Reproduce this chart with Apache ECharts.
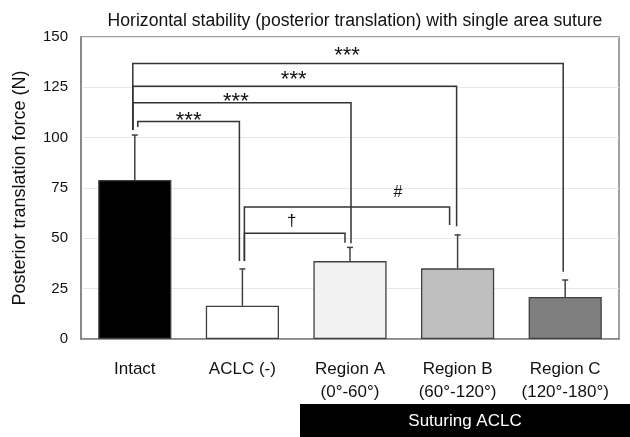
<!DOCTYPE html>
<html>
<head>
<meta charset="utf-8">
<script src="https://cdn.jsdelivr.net/npm/echarts@6/dist/echarts.min.js"></script>
<style>html,body{margin:0;padding:0;background:#fff}#c{width:630px;height:437px}</style>
</head>
<body>
<div id="c"></div>
<script>
// ---- data ----
const categories = ['Intact', 'ACLC (-)', 'Region A\n(0°-60°)', 'Region B\n(60°-120°)', 'Region C\n(120°-180°)'];
const means = [79, 16.5, 38.7, 35.1, 20.9];
const errorsUp = [22.3, 18.3, 6.8, 16.6, 8.4];
const yTicks = [0, 25, 50, 75, 100, 125, 150];
// significance brackets
const bracketFrom = [0, 0, 0, 0, 1, 1];
const bracketTo = [1, 2, 3, 4, 2, 3];
const bracketLevel = [108, 117.4, 125.5, 136.8, 52.5, 65.6];
const bracketLeftEnd = [105.3, 103.8, 103.8, 103.8, 38.7, 38.7];
const bracketRightEnd = [38.7, 47.5, 56, 33.4, 47.8, 56.6];
const bracketLabels = ['***', '***', '***', '***', '†', '#'];
const groupLabel = 'Suturing ACLC';

// ---- styling / layout (pixels) ----
const legLeftShift = [3, -2, -2, -2, 2, 2];
const legRightShift = [-3, 1, -1, -2, -5, -8];
const labelShiftX = [0, -6, -1, -1, -3, 51];
const labelShiftY = [-1, -1, -6, -8, -11.6, -14];
const labelSize = [22, 22, 22, 22, 17, 16];
const barColors = ['#000000', '#ffffff', '#f2f2f2', '#bfbfbf', '#7f7f7f'];
const FONT = '"Liberation Sans", Arial, sans-serif';
const INK = '#111111';
const LINE = '#404040';

const chart = echarts.init(document.getElementById('c'), null, {renderer: 'canvas'});

const option = {
  animation: false,
  backgroundColor: '#fff',
  title: {
    text: 'Horizontal stability (posterior translation) with single area suture',
    left: 350, top: 7, textAlign: 'center',
    textStyle: {fontFamily: FONT, fontSize: 17.6, fontWeight: 'normal', color: INK}
  },
  grid: {left: 81, right: 11, top: 37, bottom: 98, show: true, borderColor: '#808080', borderWidth: 1.5, containLabel: false},
  xAxis: {
    type: 'category', data: categories,
    axisLine: {lineStyle: {color: '#808080', width: 1.5}},
    axisTick: {show: false},
    axisLabel: {fontFamily: FONT, fontSize: 17, lineHeight: 23, color: INK, margin: 19, interval: 0}
  },
  yAxis: {
    type: 'value', min: yTicks[0], max: yTicks[yTicks.length - 1], interval: 25,
    name: 'Posterior translation force (N)', nameLocation: 'middle', nameGap: 52, nameRotate: 90,
    nameTextStyle: {fontFamily: FONT, fontSize: 18, color: INK},
    axisLine: {show: true, lineStyle: {color: '#808080', width: 1.5}},
    axisTick: {show: false},
    axisLabel: {fontFamily: FONT, fontSize: 15, color: INK, margin: 13},
    splitLine: {lineStyle: {color: '#e8e8e8', width: 1}}
  },
  series: [
    {
      type: 'bar', barWidth: '68%',
      data: means.map((v, i) => ({value: v, itemStyle: {color: barColors[i]}})),
      itemStyle: {borderColor: LINE, borderWidth: 1.3}
    },
    {
      type: 'custom', z: 5,
      encode: {x: 0, y: [1, 2]},
      data: means.map((m, i) => [i, m, m + errorsUp[i]]),
      renderItem: function (params, api) {
        const x = api.value(0);
        const p0 = api.coord([x, api.value(1)]);
        const p1 = api.coord([x, api.value(2)]);
        const st = {stroke: LINE, lineWidth: 1.5};
        return {type: 'group', children: [
          {type: 'line', shape: {x1: p0[0], y1: p0[1], x2: p1[0], y2: p1[1]}, style: st},
          {type: 'line', shape: {x1: p1[0] - 3, y1: p1[1], x2: p1[0] + 3, y2: p1[1]}, style: st}
        ]};
      }
    },
    {
      type: 'custom', z: 6,
      encode: {x: [0, 1], y: [2, 3, 4]},
      data: bracketFrom.map((f, i) => [f, bracketTo[i], bracketLevel[i], bracketLeftEnd[i], bracketRightEnd[i]]),
      renderItem: function (params, api) {
        const i = params.dataIndex;
        const a = api.value(0), b = api.value(1);
        const top = api.value(2), le = api.value(3), re = api.value(4);
        const pTopL = api.coord([a, top]);
        const pTopR = api.coord([b, top]);
        const pL = api.coord([a, le]);
        const pR = api.coord([b, re]);
        const xl = pTopL[0] + legLeftShift[i];
        const xr = pTopR[0] + legRightShift[i];
        const y = pTopL[1];
        return {type: 'group', children: [
          {type: 'polyline', shape: {points: [[xl, pL[1]], [xl, y], [xr, y], [xr, pR[1]]]},
           style: {stroke: '#333', lineWidth: 1.5, fill: null}},
          {type: 'text', x: (xl + xr) / 2 + labelShiftX[i], y: y + labelShiftY[i],
           style: {text: bracketLabels[i], font: labelSize[i] + 'px ' + FONT, fill: INK,
                   align: 'center', verticalAlign: 'middle', textAlign: 'center', textVerticalAlign: 'middle'}}
        ]};
      }
    }
  ],
  graphic: [
    {type: 'rect', left: 300, top: 404, shape: {width: 330, height: 33}, style: {fill: '#000'}},
    {type: 'text', x: 465, y: 421,
     style: {text: groupLabel, font: '17px ' + FONT, fill: '#fff', align: 'center', verticalAlign: 'middle', textAlign: 'center', textVerticalAlign: 'middle'}}
  ]
};
chart.setOption(option);
</script>
</body>
</html>
